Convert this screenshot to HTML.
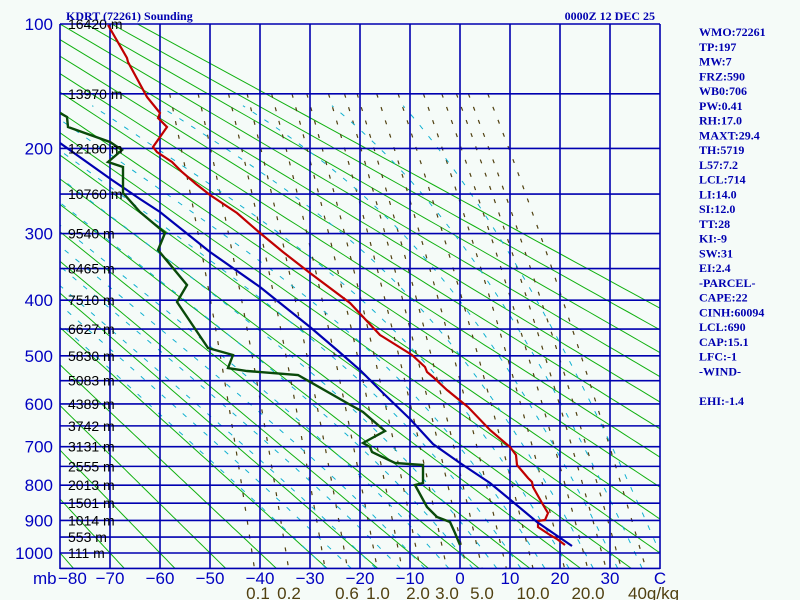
<!DOCTYPE html>
<html><head><meta charset="utf-8"><style>
body{margin:0;background:#f5fbf8;}
svg{display:block;}
</style></head><body>
<svg id="s" width="800" height="600" xmlns="http://www.w3.org/2000/svg">
<rect width="800" height="600" fill="#f5fbf8"/>
<defs><clipPath id="c"><rect x="60" y="24" width="600" height="545"/></clipPath></defs>
<g id="bg" clip-path="url(#c)"></g>
<g id="grid"></g>
<g id="data" clip-path="url(#c)"></g>
<g id="txt"></g>
</svg>
<script>
var NS="http://www.w3.org/2000/svg";
function Y(p){var a=Math.pow(100,0.286),b=Math.pow(1000,0.286);return 24+(Math.pow(p,0.286)-a)/(b-a)*529;}
function X(t){return 60+(t+80)*5;}
function el(par,tag,at,txt){var e=document.createElementNS(NS,tag);for(var k in at)e.setAttribute(k,at[k]);if(txt!=null)e.textContent=txt;document.getElementById(par).appendChild(e);return e;}
function poly(par,pts,st,w,dash){var d=pts.map(function(q){return q[0].toFixed(1)+","+q[1].toFixed(1)}).join(" ");var a={points:d,fill:"none",stroke:st,"stroke-width":w};if(dash)a["stroke-dasharray"]=dash;el(par,"polyline",a);}
// dry adiabats
for(var th=-80;th<=130;th+=10){var pts=[];for(var p=60;p<=1060;p+=10){var T=(th+273.15)*Math.pow(p/1000,0.286)-273.15;pts.push([X(T),Y(p)]);}poly("bg",pts,"#10b010",1);}
// mixing ratio
var ws=[0.1,0.2,0.4,0.6,1,1.5,2,3,4,5,7,10,15,20,25,30,40];
ws.forEach(function(w){var pts=[];for(var p=150;p<=1050;p+=10){var e=w*p/(622+w);var l=Math.log(e/6.112);var Td=243.5*l/(17.67-l);pts.push([X(Td),Y(p)]);}poly("bg",pts,"#504010",1.2,"4,10");});
// moist adiabats
for(var tw=-30;tw<=40;tw+=5){var T=tw+273.15,pts=[[X(tw),Y(1000)]];for(var p=1000;p>160;p-=5){var Tc=T-273.15;var es=6.112*Math.exp(17.67*Tc/(Tc+243.5));var rs=0.622*es/(p-es);var dTdp=(287*T+2.5e6*rs)/(p*(1004+2.5e6*2.5e6*rs*0.622/(287*T*T)));T-=dTdp*5;pts.push([X(T-273.15),Y(p-5)]);}
var T2=tw+273.15;var T3;{var Tc=tw;var es=6.112*Math.exp(17.67*Tc/(Tc+243.5));var rs=0.622*es/(1000-es);var d=(287*T2+2.5e6*rs)/(1000*(1004+2.5e6*2.5e6*rs*0.622/(287*T2*T2)));T3=T2+d*50;}
pts.unshift([X(T3-273.15),Y(1050)]);poly("bg",pts,"#10b0d0",1,"5,9");}
// grid
for(var t=-80;t<=40;t+=10)el("grid","line",{x1:X(t),y1:24,x2:X(t),y2:569,stroke:"#0000b0","stroke-width":1.6});
for(var p=100;p<=1050;p+=50)el("grid","line",{x1:60,y1:Y(p),x2:660,y2:Y(p),stroke:"#0000b0","stroke-width":1.6});
// data
poly("data",[[108,25],[127,58],[128,62],[147,97],[160,113],[158,118],[167,127],[153,147],[157,152],[172,162],[182,172],[196,184],[210,195],[237,213],[260,233],[283,252],[310,273],[350,303],[380,335],[412,355],[425,367],[427,372],[433,377],[447,390],[468,407],[490,430],[510,447],[516,455],[517,465],[528,478],[532,482],[533,487],[542,503],[548,513],[545,520],[538,521],[538,527],[550,535],[557,539],[565,545]],"#c00000",2.2);
poly("data",[[60,143],[112,180],[140,199],[160,212],[210,252],[260,287],[310,327],[337,350],[360,370],[383,393],[410,419],[433,444],[460,463],[490,483],[513,502],[537,522],[572,546]],"#0000b0",2.2);
poly("data",[[60,113],[67,117],[68,127],[110,142],[122,150],[108,162],[123,167],[123,193],[140,212],[165,233],[158,250],[187,285],[177,302],[208,348],[233,355],[228,368],[247,371],[298,375],[347,403],[363,412],[385,431],[363,443],[370,447],[372,452],[395,463],[423,465],[423,483],[415,485],[427,507],[437,517],[450,522],[455,533],[460,545]],"#0a4a0a",2.4);
// labels
[100,200,300,400,500,600,700,800,900,1000].forEach(function(p){el("txt","text",{x:53,y:Y(p)+6,"text-anchor":"end","font-family":"Liberation Sans, sans-serif","font-size":17,fill:"#0000c0"},String(p));});
var hts=["16420","13970","12180","10760","9540","8465","7510","6627","5830","5083","4389","3742","3131","2555","2013","1501","1014","553","111"];
hts.forEach(function(h,i){var p=100+50*i;el("txt","text",{x:68,y:Y(p)+5,"font-family":"Liberation Sans, sans-serif","font-size":14,fill:"#000"},h+" m");});
el("txt","text",{x:33,y:584,"font-family":"Liberation Sans, sans-serif","font-size":17,fill:"#0000c0"},"mb");
for(var t=-80;t<=30;t+=10){var s=t<0?"\u2212"+(-t):String(t);el("txt","text",{x:t==-80?58:X(t),y:584,"text-anchor":t==-80?"start":"middle","font-family":"Liberation Sans, sans-serif","font-size":17,fill:"#0000c0"},s);}
el("txt","text",{x:660,y:584,"text-anchor":"middle","font-family":"Liberation Sans, sans-serif","font-size":17,fill:"#0000c0"},"C");
[["0.1",258],["0.2",289],["0.6",347],["1.0",378],["2.0",418],["3.0",447],["5.0",482],["10.0",533],["20.0",588]].forEach(function(a){el("txt","text",{x:a[1],y:599,"text-anchor":"middle","font-family":"Liberation Sans, sans-serif","font-size":17,fill:"#504010"},a[0]);});
el("txt","text",{x:628,y:599,"font-family":"Liberation Sans, sans-serif","font-size":17,fill:"#504010"},"40g/kg");
el("txt","text",{x:66,y:20,"font-family":"Liberation Serif, serif","font-size":12,"font-weight":"bold",fill:"#0000b0"},"KDRT (72261) Sounding");
el("txt","text",{x:655,y:20,"text-anchor":"end","font-family":"Liberation Serif, serif","font-size":12,"font-weight":"bold",fill:"#0000b0"},"0000Z 12 DEC 25");
var st=["WMO:72261","TP:197","MW:7","FRZ:590","WB0:706","PW:0.41","RH:17.0","MAXT:29.4","TH:5719","L57:7.2","LCL:714","LI:14.0","SI:12.0","TT:28","KI:-9","SW:31","EI:2.4","-PARCEL-","CAPE:22","CINH:60094","LCL:690","CAP:15.1","LFC:-1","-WIND-","","EHI:-1.4"];
st.forEach(function(s,i){if(s)el("txt","text",{x:699,y:36+i*14.76,"font-family":"Liberation Serif, serif","font-size":12,"font-weight":"bold",fill:"#0000b0"},s);});
</script>
</body></html>
